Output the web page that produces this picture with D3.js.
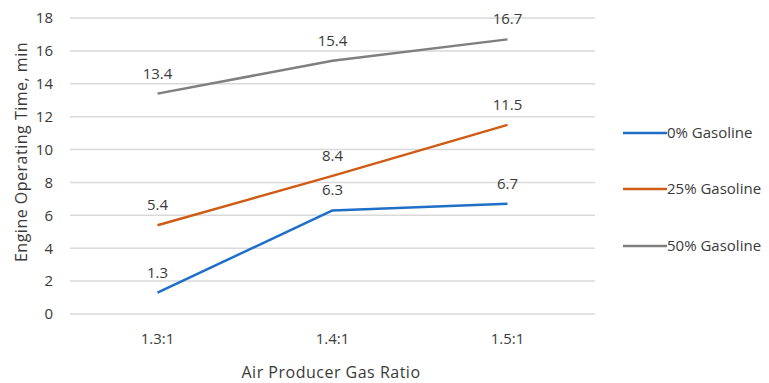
<!DOCTYPE html>
<html><head><meta charset="utf-8">
<script src="https://cdn.jsdelivr.net/npm/d3@7"></script>
<style>body{margin:0;background:#fff}svg{display:block}text{font-family:"Open Sans",Lato,sans-serif;fill:#3a3a3a}</style>
</head><body><svg id="c" width="769" height="383"></svg>
<script>
const categories = ["1.3:1","1.4:1","1.5:1"];
const seriesNames = ["0% Gasoline","25% Gasoline","50% Gasoline"];
const gas0 = [1.3, 6.3, 6.7];
const gas25 = [5.4, 8.4, 11.5];
const gas50 = [13.4, 15.4, 16.7];
const yTicks = [0,2,4,6,8,10,12,14,16,18];
const colors = ["#1f6fc9","#cf5b14","#7f7f7f"];
const series = [gas0, gas25, gas50];
const FONT = "'Open Sans',Lato,sans-serif";

const svg = d3.select("#c");
const x = d3.scaleBand().domain(categories).range([70, 595]);
const y = d3.scaleLinear().domain([0, 18]).range([314, 18]);

// gridlines
svg.append("g").selectAll("line").data(yTicks).join("line")
  .attr("x1", 70).attr("x2", 595)
  .attr("y1", d => y(d)).attr("y2", d => y(d))
  .attr("stroke", "#d9d9d9").attr("stroke-width", 1.5);

// y axis labels
const ya = svg.append("g").attr("transform", "translate(57,0)")
  .call(d3.axisLeft(y).tickValues(yTicks).tickSize(0).tickPadding(4));
ya.select(".domain").remove();
ya.selectAll("text").attr("font-size", 15).attr("font-family", FONT).attr("fill", "#3a3a3a");

// x axis labels
const xa = svg.append("g").attr("transform", "translate(0,329)")
  .call(d3.axisBottom(x).tickSize(0).tickPadding(4));
xa.select(".domain").remove();
xa.selectAll("text").attr("font-size", 15).attr("font-family", FONT).attr("fill", "#3a3a3a");

const cx = d => x(d) + x.bandwidth() / 2;
const line = d3.line().x((d, i) => cx(categories[i])).y(d => y(d));

series.forEach((s, k) => {
  svg.append("path").datum(s).attr("d", line)
    .attr("fill", "none").attr("stroke", colors[k]).attr("stroke-width", 2.5)
    .attr("stroke-linejoin", "round");
  svg.append("g").selectAll("text").data(s).join("text")
    .attr("x", (d, i) => cx(categories[i]))
    .attr("y", d => y(d) - 15)
    .attr("text-anchor", "middle").attr("font-size", 15)
    .text(d => d.toFixed(1));
});

// axis titles
svg.append("text").attr("x", 331).attr("y", 378).attr("text-anchor", "middle")
  .attr("font-size", 16).attr("letter-spacing", 0.5).text("Air Producer Gas Ratio");
svg.append("text").attr("transform", "translate(27,152) rotate(-90)")
  .attr("text-anchor", "middle").attr("font-size", 16).attr("letter-spacing", 0.5)
  .text("Engine Operating Time, min");

// legend
const ly = [133, 189, 246];
seriesNames.forEach((n, k) => {
  svg.append("line").attr("x1", 623).attr("x2", 667).attr("y1", ly[k]).attr("y2", ly[k])
    .attr("stroke", colors[k]).attr("stroke-width", 2.5);
  svg.append("text").attr("x", 667).attr("y", ly[k] + 5).attr("font-size", 15).text(n);
});
</script></body></html>
